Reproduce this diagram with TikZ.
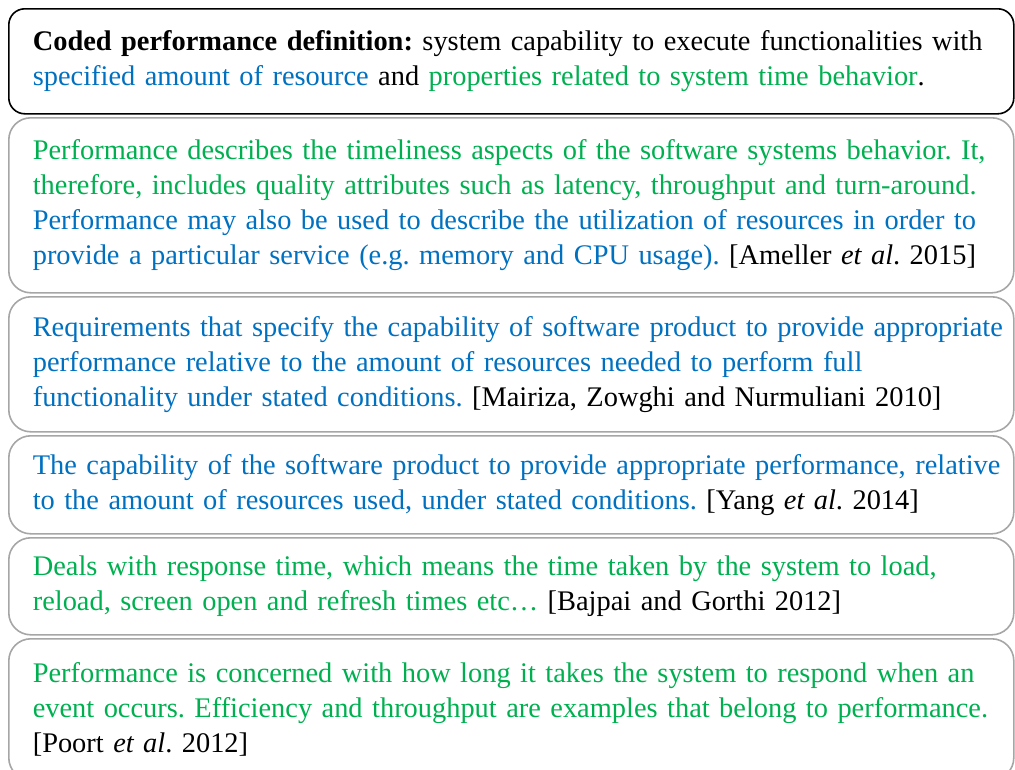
\documentclass[tikz,border=0pt]{standalone}
\usepackage{fontspec}
\setmainfont{Liberation Serif}
\frenchspacing

\definecolor{defblue}{HTML}{0070C0}
\definecolor{defgreen}{HTML}{00B050}
\definecolor{boxgray}{HTML}{A6A6A6}

% coloured runs, kept on one line each
\newcommand{\bl}[1]{\mbox{\color{defblue}#1}}
\newcommand{\gr}[1]{\mbox{\color{defgreen}#1}}

\begin{document}
\begin{tikzpicture}[x=1pt, y=-1pt,
    card/.style={draw=boxgray, line width=1.6pt, rounded corners=22pt,
        anchor=north west, text width=957pt, inner xsep=24pt, inner ysep=0pt,
        align=left, font=\fontsize{28.4}{35}\selectfont}]
    \clip (0,0) rectangle (1015,769);

    % definition on top, the quoted sources below
    \node[card, draw=black, rounded corners=16pt, minimum height=105pt] (def) at (8,8)
        {\mbox{\textbf{Coded performance definition:} system capability to execute functionalities with}\\
         \bl{specified amount of resource} and \gr{properties related to system time behavior}.};
    \node[card, minimum height=175pt] (ameller) at (8,117)
        {\gr{Performance describes the timeliness aspects of the software systems behavior. It,}\\
         \gr{therefore, includes quality attributes such as latency, throughput and turn-around.}\\
         \bl{Performance may also be used to describe the utilization of resources in order to}\\
         \bl{provide a particular service (e.g. memory and CPU usage).} [Ameller \textit{et al}. 2015]};
    \node[card, minimum height=135pt] (mairiza) at (8,296)
        {\bl{Requirements that specify the capability of software product to provide appropriate}\\
         \bl{performance relative to the amount of resources needed to perform full}\\
         \bl{functionality under stated conditions.} [Mairiza, Zowghi and Nurmuliani 2010]};
    \node[card, minimum height=98pt] (yang) at (8,435)
        {\bl{The capability of the software product to provide appropriate performance, relative}\\
         \bl{to the amount of resources used, under stated conditions.} [Yang \textit{et al}. 2014]};
    \node[card, minimum height=97pt] (bajpai) at (8,537)
        {\gr{Deals with response time, which means the time taken by the system to load,}\\
         \gr{reload, screen open and refresh times etc…} [Bajpai and Gorthi 2012]};
    \node[card, minimum height=141pt] (poort) at (8,638)
        {\gr{Performance is concerned with how long it takes the system to respond when an}\\
         \gr{event occurs. Efficiency and throughput are examples that belong to performance.}\\
         {[Poort \textit{et al}. 2012]}};
\end{tikzpicture}
\end{document}
